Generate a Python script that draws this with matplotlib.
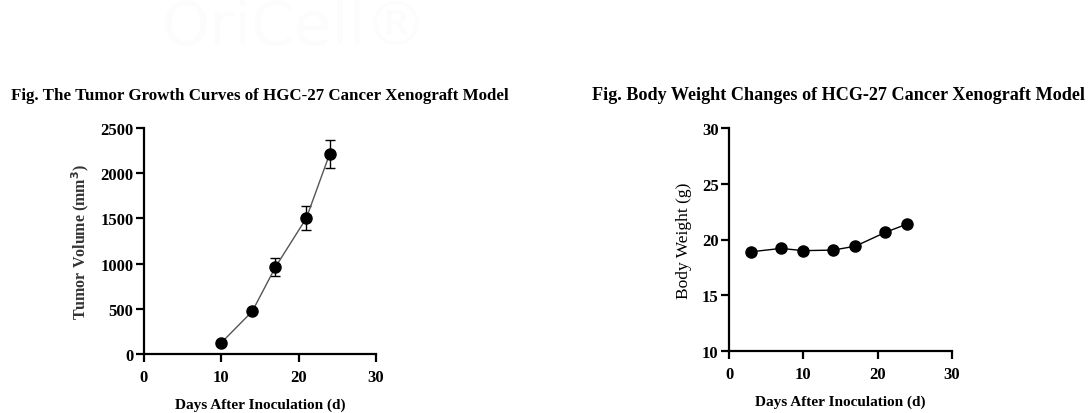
import matplotlib

matplotlib.use("Agg")
import matplotlib.pyplot as plt

# tumour growth (left panel)
tumor_days = [10, 14, 17, 21, 24]
tumor_volume = [125, 472, 962, 1504, 2212]
tumor_sem = [0, 0, 96, 135, 153]

# body weight (right panel)
weight_days = [3, 7, 10, 14, 17, 21, 24]
body_weight = [18.9, 19.2, 19.0, 19.05, 19.4, 20.63, 21.4]

plt.rcParams["font.family"] = ["Liberation Serif", "DejaVu Serif"]

W, H = 1092, 414
fig = plt.figure(figsize=(W / 100, H / 100), dpi=100)


def px_axes(x0, x1, y0, y1):
    # pixel box -> figure fraction
    return fig.add_axes([x0 / W, 1 - y1 / H, (x1 - x0) / W, (y1 - y0) / H])


def style(ax):
    for s in ("top", "right"):
        ax.spines[s].set_visible(False)
    for s in ("left", "bottom"):
        ax.spines[s].set_linewidth(1.6)
    ax.tick_params(width=1.6, length=6, labelsize=12)
    ax.tick_params(axis="x", pad=5)
    ax.tick_params(axis="y", pad=1.5)
    for lab in ax.get_xticklabels() + ax.get_yticklabels():
        lab.set_fontweight("bold")


# faint watermark
fig.text(0.27, 0.93, "OriCell\u00ae", fontsize=44, color="#fcfcfc",
         ha="center", va="center", family="DejaVu Sans")

ax1 = px_axes(144, 376, 129, 355)
ax1.errorbar(tumor_days, tumor_volume, yerr=tumor_sem, fmt="o-", color="#555555",
             ecolor="black", elinewidth=1.0, capsize=3.5, capthick=1.0,
             markersize=8, linewidth=1.0, mfc="black", mec="black")
ax1.set_xlim(0, 30)
ax1.set_ylim(0, 2500)
ax1.set_xticks([0, 10, 20, 30])
ax1.set_yticks([0, 500, 1000, 1500, 2000, 2500])
ax1.set_xlabel("Days After Inoculation (d)", fontsize=11, fontweight="bold", labelpad=9)
ax1.set_ylabel("Tumor Volume (mm$^\\mathbf{3}$)", fontsize=11.5, fontweight="bold",
               color="#333333", labelpad=7)
style(ax1)

ax2 = px_axes(729, 952, 129, 352)
ax2.plot(weight_days, body_weight, "o-", color="black", markersize=8, linewidth=1.0)
ax2.set_xlim(0, 30)
ax2.set_ylim(10, 30)
ax2.set_xticks([0, 10, 20, 30])
ax2.set_yticks([10, 15, 20, 25, 30])
ax2.set_xlabel("Days After Inoculation (d)", fontsize=11, fontweight="bold", labelpad=9)
ax2.set_ylabel("Body Weight (g)", fontsize=12.5, labelpad=7)
style(ax2)

fig.text(260 / W, 1 - 96 / H, "Fig. The Tumor Growth Curves of HGC-27 Cancer Xenograft Model",
         ha="center", va="center", fontsize=12.2, fontweight="bold")
fig.text(839 / W, 1 - 96 / H, "Fig. Body Weight Changes of HCG-27 Cancer Xenograft Model",
         ha="center", va="center", fontsize=13.1, fontweight="bold")

fig.savefig("out.png", dpi=100, facecolor="white")
